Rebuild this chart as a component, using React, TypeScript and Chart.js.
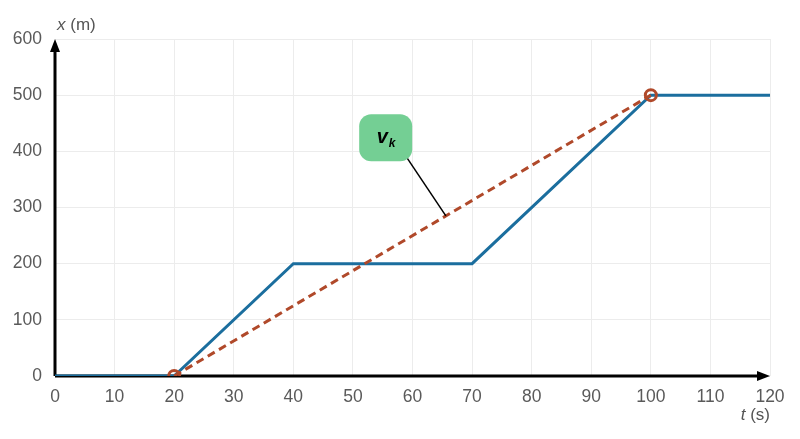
import React, { useEffect, useRef } from "react";
import { Chart, registerables } from "chart.js";

Chart.register(...registerables);

const motionT = [0, 20, 40, 70, 100, 120];
const motionX = [0, 0, 200, 200, 500, 500];
const avgT = [20, 100];
const avgX = [0, 500];
const labelAnchor = [55.5, 424]; // t, x of the label centre
const pointerT = 65.6;
const xTitle = ["x", " (m)"];
const tTitle = ["t", " (s)"];

const FONT = "'Liberation Sans', Arial, sans-serif";

export default function App() {
  const ref = useRef<HTMLCanvasElement>(null);
  useEffect(() => {
    document.body.style.margin = "0";
    const ctx = ref.current!.getContext("2d")!;
    const overlay = {
      id: "overlay",
      beforeDatasetsDraw(chart: any) {
        const c = chart.ctx;
        const { left, right, top, bottom } = chart.chartArea;
        c.save();
        c.strokeStyle = "#000";
        c.fillStyle = "#000";
        c.lineWidth = 3;
        c.beginPath();
        c.moveTo(left, bottom);
        c.lineTo(right - 8, bottom);
        c.moveTo(left, bottom);
        c.lineTo(left, top + 8);
        c.stroke();
        c.beginPath();
        c.moveTo(right, bottom);
        c.lineTo(right - 13, bottom - 5);
        c.lineTo(right - 13, bottom + 5);
        c.closePath();
        c.fill();
        c.beginPath();
        c.moveTo(left, top);
        c.lineTo(left - 5, top + 13);
        c.lineTo(left + 5, top + 13);
        c.closePath();
        c.fill();
        c.restore();
      },
      afterDraw(chart: any) {
        const c = chart.ctx;
        const xs = chart.scales.x;
        const ys = chart.scales.y;
        const { left, right, top, bottom } = chart.chartArea;
        c.save();
        // axis titles
        c.fillStyle = "#555";
        c.textBaseline = "middle";
        c.textAlign = "left";
        c.font = `italic 17px ${FONT}`;
        const w1 = c.measureText(xTitle[0]).width;
        c.fillText(xTitle[0], left + 2, top - 14);
        c.font = `17px ${FONT}`;
        c.fillText(xTitle[1], left + 2 + w1, top - 14);
        c.font = `17px ${FONT}`;
        const w2 = c.measureText(tTitle[1]).width;
        c.fillText(tTitle[1], right - w2, bottom + 39);
        c.font = `italic 17px ${FONT}`;
        const w3 = c.measureText(tTitle[0]).width;
        c.fillText(tTitle[0], right - w2 - w3, bottom + 39);
        // pointer line
        const cx = xs.getPixelForValue(labelAnchor[0]);
        const cy = ys.getPixelForValue(labelAnchor[1]);
        const px = xs.getPixelForValue(pointerT);
        const slope = (avgX[1] - avgX[0]) / (avgT[1] - avgT[0]);
        const py = ys.getPixelForValue(avgX[0] + (pointerT - avgT[0]) * slope);
        c.strokeStyle = "#000";
        c.lineWidth = 1.5;
        c.beginPath();
        c.moveTo(cx + 20, cy + 18);
        c.lineTo(px, py);
        c.stroke();
        // label box
        const bw = 53, bh = 47, r = 12;
        c.fillStyle = "#74cf94";
        c.beginPath();
        (c as any).roundRect(cx - bw / 2, cy - bh / 2, bw, bh, r);
        c.fill();
        c.fillStyle = "#000";
        c.font = `italic bold 20px ${FONT}`;
        c.textAlign = "left";
        c.fillText("v", cx - 9, cy);
        c.font = `italic bold 12px ${FONT}`;
        c.fillText("k", cx + 3, cy + 6);
        c.restore();
      },
    };
    const chart = new Chart(ctx, {
      type: "scatter",
      data: {
        datasets: [
          {
            data: avgT.map((t, i) => ({ x: t, y: avgX[i] })),
            showLine: true,
            borderColor: "#b0492a",
            borderWidth: 3,
            borderDash: [8, 5],
            pointRadius: 5.5,
            pointBorderWidth: 3,
            pointBorderColor: "#b0492a",
            pointBackgroundColor: "rgba(0,0,0,0)",
            order: 0,
          },
          {
            data: motionT.map((t, i) => ({ x: t, y: motionX[i] })),
            showLine: true,
            borderColor: "#1b6e9e",
            borderWidth: 3,
            pointRadius: 0,
            order: 1,
          },
        ],
      },
      options: {
        animation: false,
        responsive: false,
        layout: { padding: { left: 0, right: 30, top: 39, bottom: 0 } },
        plugins: { legend: { display: false }, tooltip: { enabled: false } },
        scales: {
          x: {
            type: "linear",
            min: 0,
            max: 120,
            ticks: { stepSize: 10, color: "#5a5a5a", font: { size: 17.5, family: FONT }, padding: 11 },
            grid: { color: "#ececec", drawTicks: false },
            border: { display: false },
            afterFit: (s: any) => { s.height = 63; },
          },
          y: {
            type: "linear",
            min: 0,
            max: 600,
            ticks: { stepSize: 100, color: "#5a5a5a", font: { size: 17.5, family: FONT }, padding: 13 },
            grid: { color: "#ececec", drawTicks: false },
            border: { display: false },
            afterFit: (s: any) => { s.width = 55; },
          },
        },
      },
      plugins: [overlay],
    });
    return () => chart.destroy();
  }, []);
  return (
    <div style={{ width: 800, height: 439 }}>
      <canvas ref={ref} width={800} height={439} />
    </div>
  );
}
